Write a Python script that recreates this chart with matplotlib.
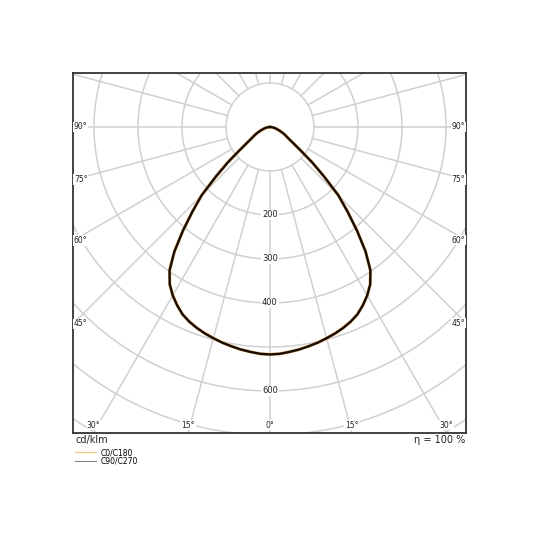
import numpy as np
import matplotlib
matplotlib.use("Agg")
import matplotlib.pyplot as plt
from matplotlib.lines import Line2D

# gamma angles (deg from nadir) and intensities in cd/klm
gamma = [0, 2.5, 5, 7.5, 10, 12.5, 15, 17.5, 20, 22.5, 25, 27.5, 30, 32.5, 35,
         37.5, 40, 42.5, 45, 47.5, 50, 52.5, 55, 57.5, 60, 62.5, 65, 67.5, 70,
         72.5, 75, 77.5, 80, 82.5, 85, 87.5, 90]
c0_c180 = [517, 516, 513, 510, 506, 502, 497, 492, 486, 479, 470, 457, 442, 424, 398,
           357, 308, 261, 220, 167, 125, 88, 66, 52, 44, 38, 32, 26, 21,
           17, 14, 11, 8, 5, 3, 1, 0]
c90_c270 = [517, 516, 513, 510, 506, 502, 497, 492, 486, 479, 470, 457, 442, 424, 398,
            357, 308, 261, 220, 167, 125, 88, 66, 52, 44, 38, 32, 26, 21,
            17, 14, 11, 8, 5, 3, 1, 0]

ring_values = [100, 200, 300, 400, 500, 600, 700, 800, 900]
ring_labels = [200, 300, 400, 600]
side_labels = [90, 75, 60, 45]
bottom_labels = [-30, -15, 0, 15, 30]
series_names = ["C0/C180", "C90/C270"]
efficiency = 100

GRID = "#d0d0d0"
xlim = (-447.7, 445.5)
ylim = (-695.5, 122.7)

fig = plt.figure(figsize=(5.4, 5.4), dpi=100)
ax = fig.add_axes([73 / 540, 107 / 540, 393 / 540, 360 / 540])
ax.set_xlim(*xlim)
ax.set_ylim(*ylim)
ax.set_xticks([])
ax.set_yticks([])
for s in ax.spines.values():
    s.set_color("#333333")
    s.set_linewidth(1.3)

# rings
t = np.linspace(0, 2 * np.pi, 400)
for r in ring_values:
    ax.plot(r * np.cos(t), r * np.sin(t), color=GRID, lw=1.1, zorder=1)

# spokes every 15 deg, starting at inner ring
for a in range(0, 360, 15):
    ar = np.radians(a)
    ax.plot([100 * np.sin(ar), 1200 * np.sin(ar)],
            [-100 * np.cos(ar), -1200 * np.cos(ar)],
            color=GRID, lw=1.1, zorder=1)


def to_xy(angles, vals, sign):
    a = np.radians(angles)
    v = np.asarray(vals, float)
    return sign * v * np.sin(a), -v * np.cos(a)


for vals, col, lw in [(c0_c180, "#f0b060", 2.3), (c90_c270, "#150c08", 1.7)]:
    xl, yl = to_xy(gamma, vals, -1)
    xr, yr = to_xy(gamma, vals, 1)
    x = np.concatenate([xl[::-1], xr[1:]])
    y = np.concatenate([yl[::-1], yr[1:]])
    ax.plot(x, y, color=col, lw=lw, solid_capstyle="round",
            solid_joinstyle="round", zorder=3)

box = dict(facecolor="white", edgecolor="none", pad=0.6)

# ring labels along nadir
for r in ring_labels:
    ax.text(0, -r, str(r), ha="center", va="center", fontsize=6,
            color="#222222", bbox=box, zorder=4)

# angle labels on side edges
for g in side_labels:
    gr = np.radians(g)
    yl_ = -abs(xlim[0]) * np.cos(gr) / np.sin(gr)
    yr_ = -abs(xlim[1]) * np.cos(gr) / np.sin(gr)
    ax.text(xlim[0] + 2, yl_, f"{g}°", ha="left", va="center", fontsize=5.5,
            color="#222222", bbox=box, zorder=4)
    ax.text(xlim[1] - 2, yr_, f"{g}°", ha="right", va="center", fontsize=5.5,
            color="#222222", bbox=box, zorder=4)

# angle labels on bottom edge
for g in bottom_labels:
    gr = np.radians(g)
    xb = abs(ylim[0]) * np.tan(gr)
    ax.text(xb, ylim[0] + 18, f"{abs(g)}°", ha="center", va="center",
            fontsize=5.5, color="#222222", bbox=box, zorder=4)

fig.text(76 / 540, 1 - 440 / 540, "cd/klm", ha="left", va="center",
         fontsize=7, color="#222222")
fig.text(465 / 540, 1 - 440 / 540, f"η = {efficiency} %", ha="right",
         va="center", fontsize=7, color="#222222")

handles = [Line2D([], [], color="#f5c77e", lw=0.8),
           Line2D([], [], color="#7f8a90", lw=0.8)]
fig.legend(handles, series_names, loc="upper left",
           bbox_to_anchor=(75 / 540, 1 - 448 / 540), frameon=False,
           fontsize=5.5, handlelength=2.7, handletextpad=0.6,
           labelspacing=-0.05, borderpad=0, borderaxespad=0)

fig.savefig("out.png", dpi=100)
